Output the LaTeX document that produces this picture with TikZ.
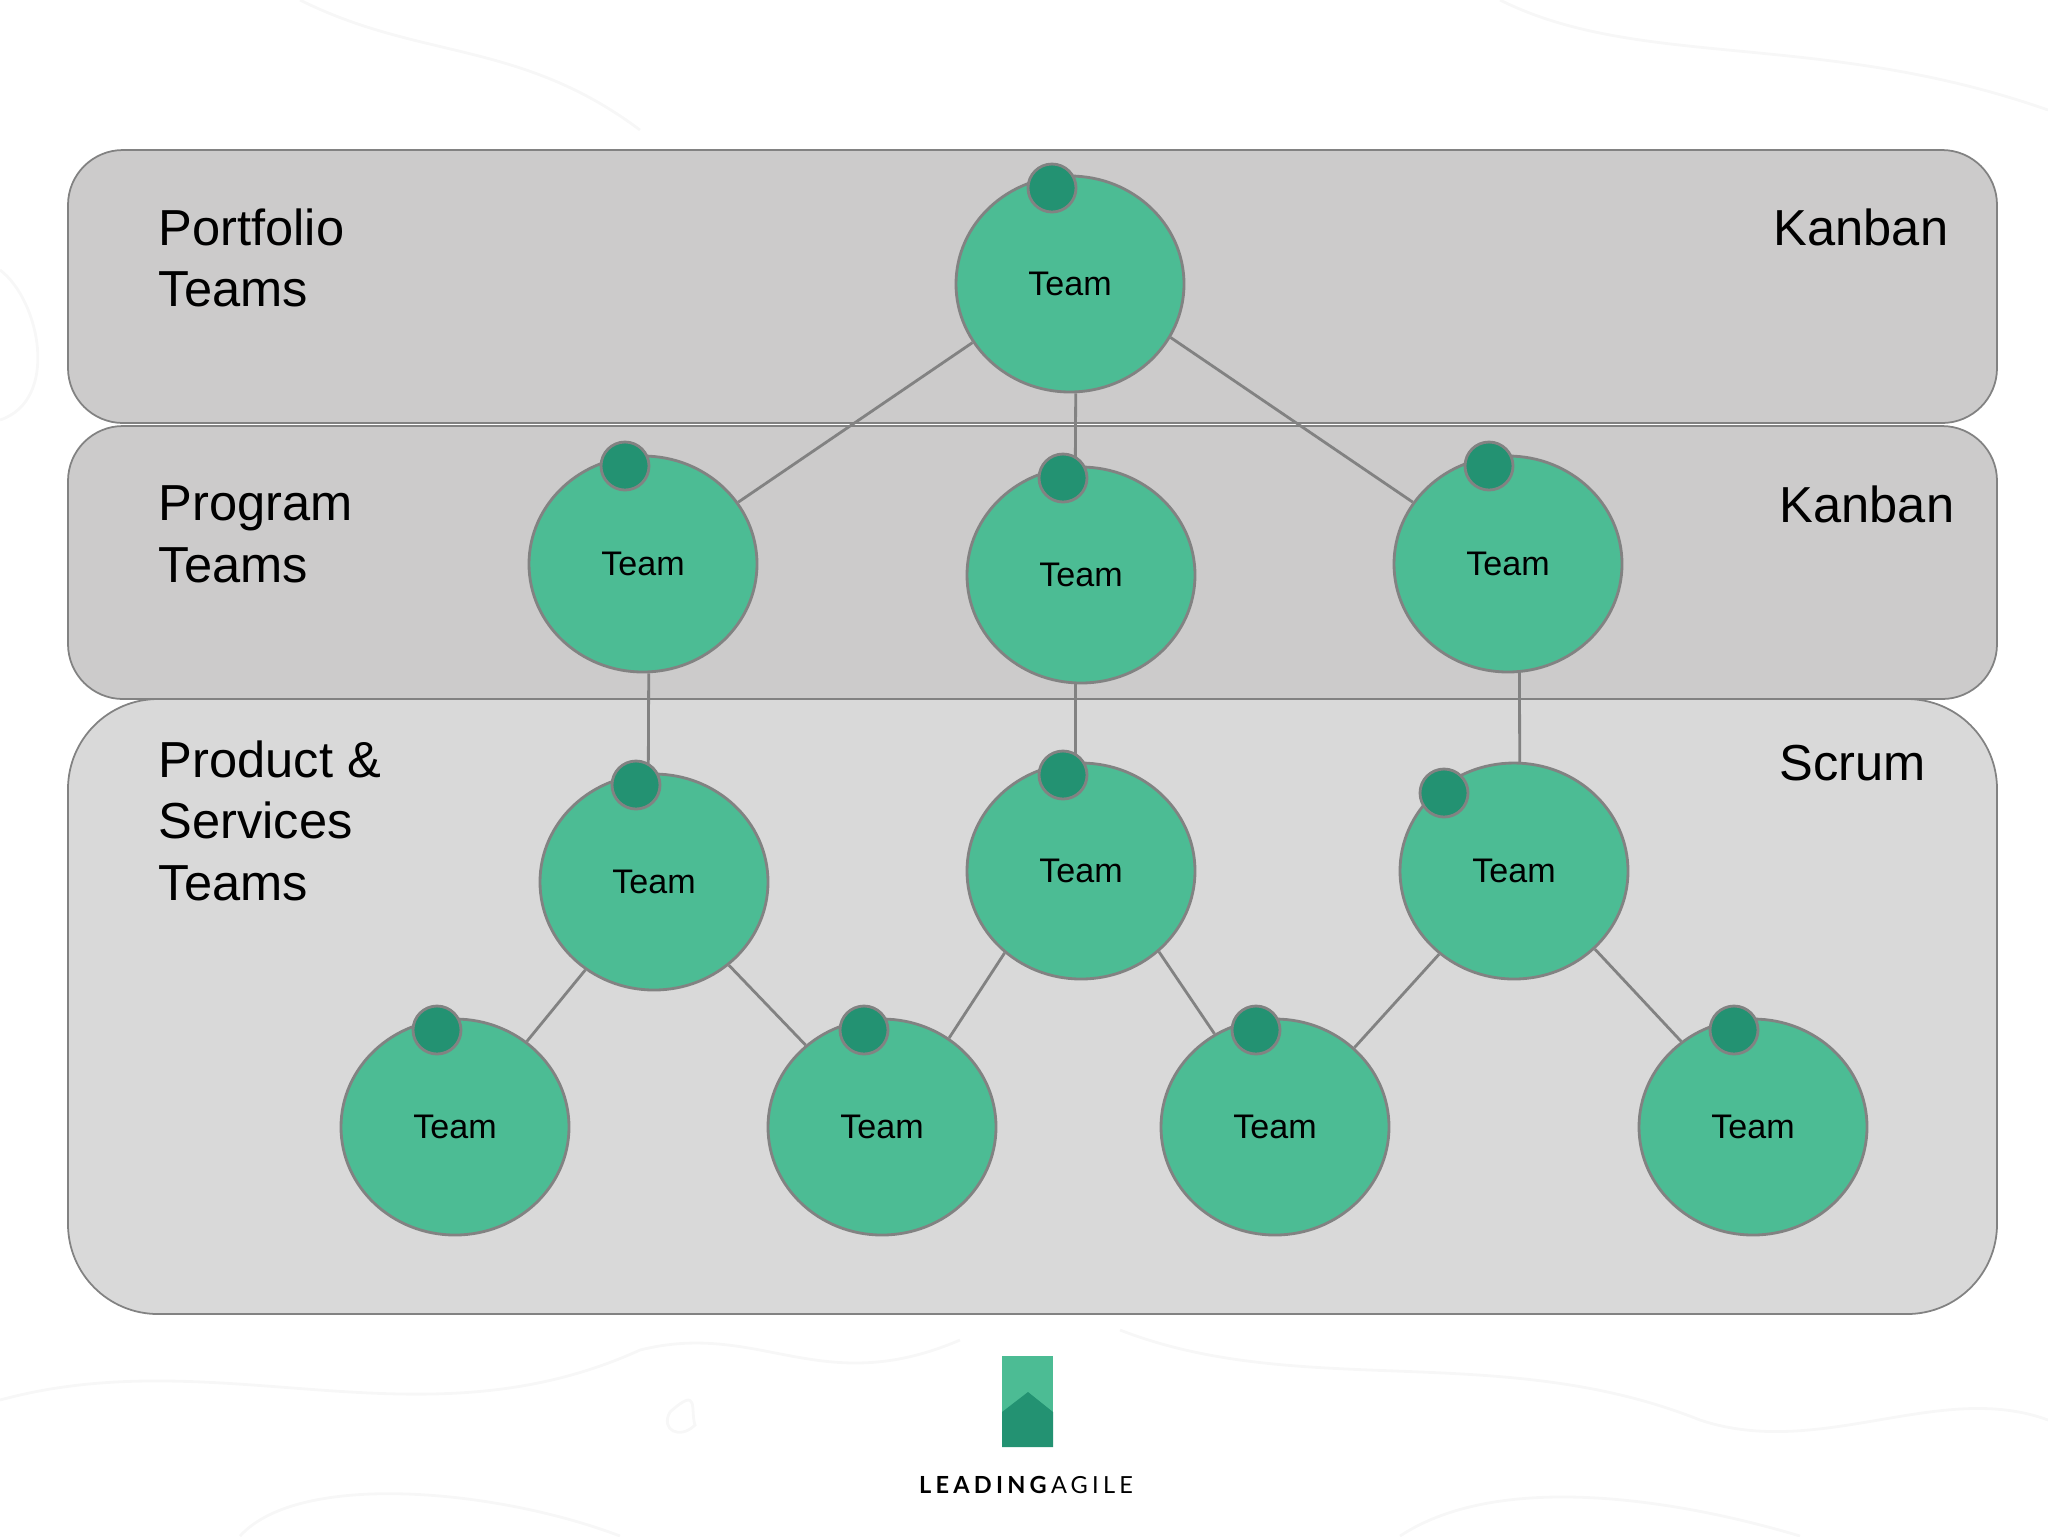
\documentclass[tikz,border=0pt]{standalone}
\usepackage{fontspec}
\setmainfont{Liberation Sans}
\newfontfamily\logofont[LetterSpace=18]{Lato}
\usetikzlibrary{shapes.geometric,backgrounds}
\definecolor{teamgreen}{HTML}{4CBC94}
\definecolor{deepgreen}{HTML}{239272}
\definecolor{edgegray}{HTML}{828282}
\definecolor{bandgray}{HTML}{CCCBCB}
\definecolor{lightband}{HTML}{D9D9D9}
\definecolor{contour}{HTML}{F7F7F7}
\tikzset{
  team/.style={ellipse,draw=edgegray,line width=0.8pt,fill=teamgreen,minimum width=22.8mm,minimum height=21.6mm,inner sep=0pt,font=\fontsize{9.7}{11}\selectfont},
  dot/.style={circle,draw=edgegray,line width=0.8pt,fill=deepgreen,minimum size=4.8mm,inner sep=0pt},
  band/.style={draw=edgegray,line width=0.5pt},
  link/.style={draw=edgegray,line width=0.8pt},
  tag/.style={anchor=north west,inner sep=0pt,align=left,font=\fontsize{14.4}{17.5}\selectfont}
}
\begin{document}
\begin{tikzpicture}[x=0.1mm,y=-0.1mm]
\useasboundingbox (0,0) rectangle (2048,1536);
% teams
\node [team] (top) at (1070,284) {Team};
\node [team] (pgm1) at (643,564) {Team};
\node [team] (pgm2) at (1081,575) {Team};
\node [team] (pgm3) at (1508,564) {Team};
\node [team] (svc1) at (654,882) {Team};
\node [team] (svc2) at (1081,871) {Team};
\node [team] (svc3) at (1514,871) {Team};
\node [team] (leaf1) at (455,1127) {Team};
\node [team] (leaf2) at (882,1127) {Team};
\node [team] (leaf3) at (1275,1127) {Team};
\node [team] (leaf4) at (1753,1127) {Team};
% dots
\node [dot] (dtop) at (1052,188) {};
\node [dot] (dpgm1) at (625,466) {};
\node [dot] (dpgm2) at (1063,478) {};
\node [dot] (dpgm3) at (1489,466) {};
\node [dot] (dsvc1) at (636,785) {};
\node [dot] (dsvc2) at (1063,775) {};
\node [dot] (dsvc3) at (1444,793) {};
\node [dot] (dleaf1) at (437,1030) {};
\node [dot] (dleaf2) at (864,1030) {};
\node [dot] (dleaf3) at (1256,1030) {};
\node [dot] (dleaf4) at (1734,1030) {};
% labels
\node [tag] (lport) at (158,208) {Portfolio\\Teams};
\node [tag] (lprog) at (158,485) {Program\\Teams};
\node [tag] (lprod) at (158,740) {Product \&\\Services\\Teams};
\node [tag] (rport) at (1773,208) {Kanban};
\node [tag] (rprog) at (1779,485) {Kanban};
\node [tag] (rprod) at (1779,744) {Scrum};
% logo
\node [inner sep=0pt,font=\logofont\fontsize{6.7}{8}\selectfont] (brand) at (1026,1485) {\textbf{LEADING}AGILE};
\begin{scope}[on background layer]
\draw [contour,line width=0.8pt] (0,420) .. controls (60,400) and (40,300) .. (0,270);
\draw [contour,line width=0.8pt] (300,0) .. controls (420,60) and (520,40) .. (640,130);
\draw [contour,line width=0.8pt] (1500,0) .. controls (1640,70) and (1820,30) .. (2048,110);
\draw [contour,line width=0.8pt] (0,1400) .. controls (220,1340) and (420,1450) .. (640,1350) .. controls (760,1320) and (820,1400) .. (960,1340);
\draw [contour,line width=0.8pt] (1120,1330) .. controls (1300,1400) and (1500,1340) .. (1700,1420) .. controls (1820,1460) and (1940,1380) .. (2048,1420);
\draw [contour,line width=0.8pt] (670,1412) .. controls (700,1385) and (690,1410) .. (695,1425) .. controls (680,1440) and (660,1430) .. (670,1412);
\draw [contour,line width=0.8pt] (240,1536) .. controls (300,1470) and (500,1490) .. (620,1536);
\draw [contour,line width=0.8pt] (1400,1536) .. controls (1500,1470) and (1680,1500) .. (1800,1536);
\draw [band,fill=bandgray,rounded corners=5.5mm] (68,150) rectangle (1997,423);
\draw [band,fill=bandgray,rounded corners=5.5mm] (68,426) rectangle (1997,699);
\draw [band,fill=lightband,rounded corners=9mm] (68,699) rectangle (1997,1314);
\fill [teamgreen] (1002,1356) rectangle (1053,1447);
\fill [deepgreen] (1002,1447) -- (1002,1412) -- (1028,1392) -- (1053,1412) -- (1053,1447) -- cycle;
\draw [link] (top.273) -- (pgm2.93);
\draw [link] (top.211) -- (pgm1.33);
\draw [link] (top.332) -- (pgm3.147);
\draw [link] (pgm1.273) -- (svc1.93);
\draw [link] (pgm2.267) -- (svc2.93);
\draw [link] (pgm3.276) -- (svc3.87);
\draw [link] (svc1.232) -- (leaf1.50);
\draw [link] (svc1.312) -- (leaf2.133);
\draw [link] (svc2.227) -- (leaf2.53);
\draw [link] (svc2.314) -- (leaf3.123);
\draw [link] (svc3.228) -- (leaf3.45);
\draw [link] (svc3.316) -- (leaf4.130);
\end{scope}
\end{tikzpicture}
\end{document}
